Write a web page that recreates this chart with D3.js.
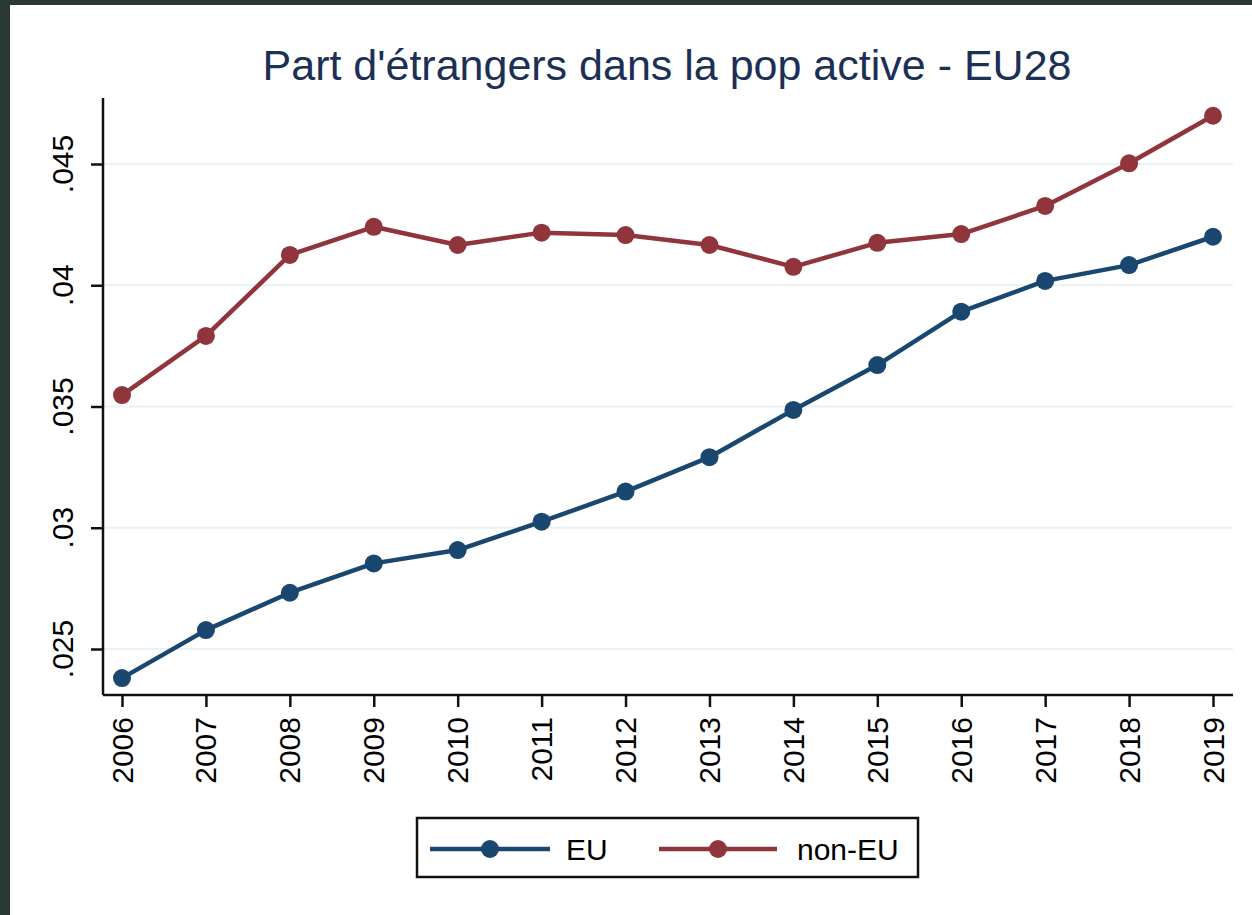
<!DOCTYPE html>
<html>
<head>
<meta charset="utf-8">
<script src="https://cdn.jsdelivr.net/npm/d3@7"></script>
<style>
  html, body { margin: 0; padding: 0; background: #2a3934; }
  svg { display: block; }
  text { font-family: "Liberation Sans", Arial, sans-serif; }
</style>
</head>
<body>
<div id="chart"></div>
<script>
// values
const years = [2006, 2007, 2008, 2009, 2010, 2011, 2012, 2013, 2014, 2015, 2016, 2017, 2018, 2019];
const euShare = [0.02380, 0.02578, 0.02732, 0.02853, 0.02908, 0.03025, 0.03149, 0.03291, 0.03486, 0.03671, 0.03891, 0.04018, 0.04083, 0.04200];
const nonEuShare = [0.03547, 0.03791, 0.04125, 0.04241, 0.04166, 0.04217, 0.04207, 0.04166, 0.04076, 0.04175, 0.04211, 0.04327, 0.04503, 0.04699];
const yTicks = [0.025, 0.03, 0.035, 0.04, 0.045];
const yTickLabels = [".025", ".03", ".035", ".04", ".045"];
const seriesNames = ["EU", "non-EU"];
const seriesColors = ["#1a476f", "#90353b"];
const title = "Part d'étrangers dans la pop active - EU28";

const width = 1252, height = 915;

const svg = d3.select("#chart")
    .append("svg")
    .attr("width", width)
    .attr("height", height);

// white graph region inside the dark frame
svg.append("rect")
    .attr("x", 10).attr("y", 5)
    .attr("width", width - 10).attr("height", height - 5)
    .attr("fill", "white");

const plot = { left: 103, right: 1233, top: 98, bottom: 695 };

const x = d3.scaleLinear()
    .domain([2006, 2019])
    .range([122, 1213]);

const y = d3.scaleLinear()
    .domain([0.025, 0.045])
    .range([649, 164]);

// grid lines
svg.append("g")
    .selectAll("line")
    .data(yTicks)
    .enter().append("line")
    .attr("x1", plot.left).attr("x2", plot.right)
    .attr("y1", d => y(d)).attr("y2", d => y(d))
    .attr("stroke", "#eaf2f3")
    .attr("stroke-width", 2);

// y axis
const yAxis = svg.append("g")
    .attr("transform", `translate(${plot.left},0)`)
    .call(d3.axisLeft(y).tickValues(yTicks).tickSize(12).tickFormat(""));
yAxis.select(".domain")
    .attr("d", `M0,${plot.top}V${plot.bottom}`)
    .attr("stroke", "#111").attr("stroke-width", 2.5);
yAxis.selectAll(".tick line").attr("stroke", "#111").attr("stroke-width", 2.5);

svg.append("g")
    .selectAll("text")
    .data(yTicks)
    .enter().append("text")
    .attr("transform", d => `translate(62,${y(d)}) rotate(-90)`)
    .attr("text-anchor", "middle")
    .attr("dy", "0.35em")
    .style("font-size", "30px")
    .attr("fill", "#000")
    .text((d, i) => yTickLabels[i]);

// x axis
const xAxis = svg.append("g")
    .attr("transform", `translate(0,${plot.bottom})`)
    .call(d3.axisBottom(x).tickValues(years).tickSize(12).tickFormat(""));
xAxis.select(".domain")
    .attr("d", `M${plot.left},0H${plot.right}`)
    .attr("stroke", "#111").attr("stroke-width", 2.5);
xAxis.selectAll(".tick line").attr("stroke", "#111").attr("stroke-width", 2.5);

svg.append("g")
    .selectAll("text")
    .data(years)
    .enter().append("text")
    .attr("transform", d => `translate(${x(d)},717) rotate(-90)`)
    .attr("text-anchor", "end")
    .attr("dy", "0.35em")
    .style("font-size", "30px")
    .attr("fill", "#000")
    .text(d => d);

// series
const line = d3.line()
    .x((d, i) => x(years[i]))
    .y(d => y(d));

[euShare, nonEuShare].forEach((vals, k) => {
    svg.append("path")
        .datum(vals)
        .attr("d", line)
        .attr("fill", "none")
        .attr("stroke", seriesColors[k])
        .attr("stroke-width", 4.5)
        .attr("stroke-linejoin", "round");

    svg.append("g")
        .selectAll("circle")
        .data(vals)
        .enter().append("circle")
        .attr("cx", (d, i) => x(years[i]))
        .attr("cy", d => y(d))
        .attr("r", 9)
        .attr("fill", seriesColors[k]);
});

// title
svg.append("text")
    .attr("x", 667)
    .attr("y", 80)
    .attr("text-anchor", "middle")
    .style("font-size", "43px")
    .attr("fill", "#1c2f55")
    .text(title);

// legend
const legend = svg.append("g");
legend.append("rect")
    .attr("x", 417).attr("y", 818)
    .attr("width", 501).attr("height", 59)
    .attr("fill", "white")
    .attr("stroke", "#111")
    .attr("stroke-width", 2.5);

const legendItems = [
    { x1: 430, x2: 550, tx: 566 },
    { x1: 659, x2: 777, tx: 797 }
];
legendItems.forEach((it, k) => {
    legend.append("line")
        .attr("x1", it.x1).attr("x2", it.x2)
        .attr("y1", 849).attr("y2", 849)
        .attr("stroke", seriesColors[k])
        .attr("stroke-width", 4.5);
    legend.append("circle")
        .attr("cx", (it.x1 + it.x2) / 2)
        .attr("cy", 849)
        .attr("r", 9)
        .attr("fill", seriesColors[k]);
    legend.append("text")
        .attr("x", it.tx)
        .attr("y", 849)
        .attr("dy", "0.35em")
        .style("font-size", "30px")
        .attr("fill", "#000")
        .text(seriesNames[k]);
});
</script>
</body>
</html>
